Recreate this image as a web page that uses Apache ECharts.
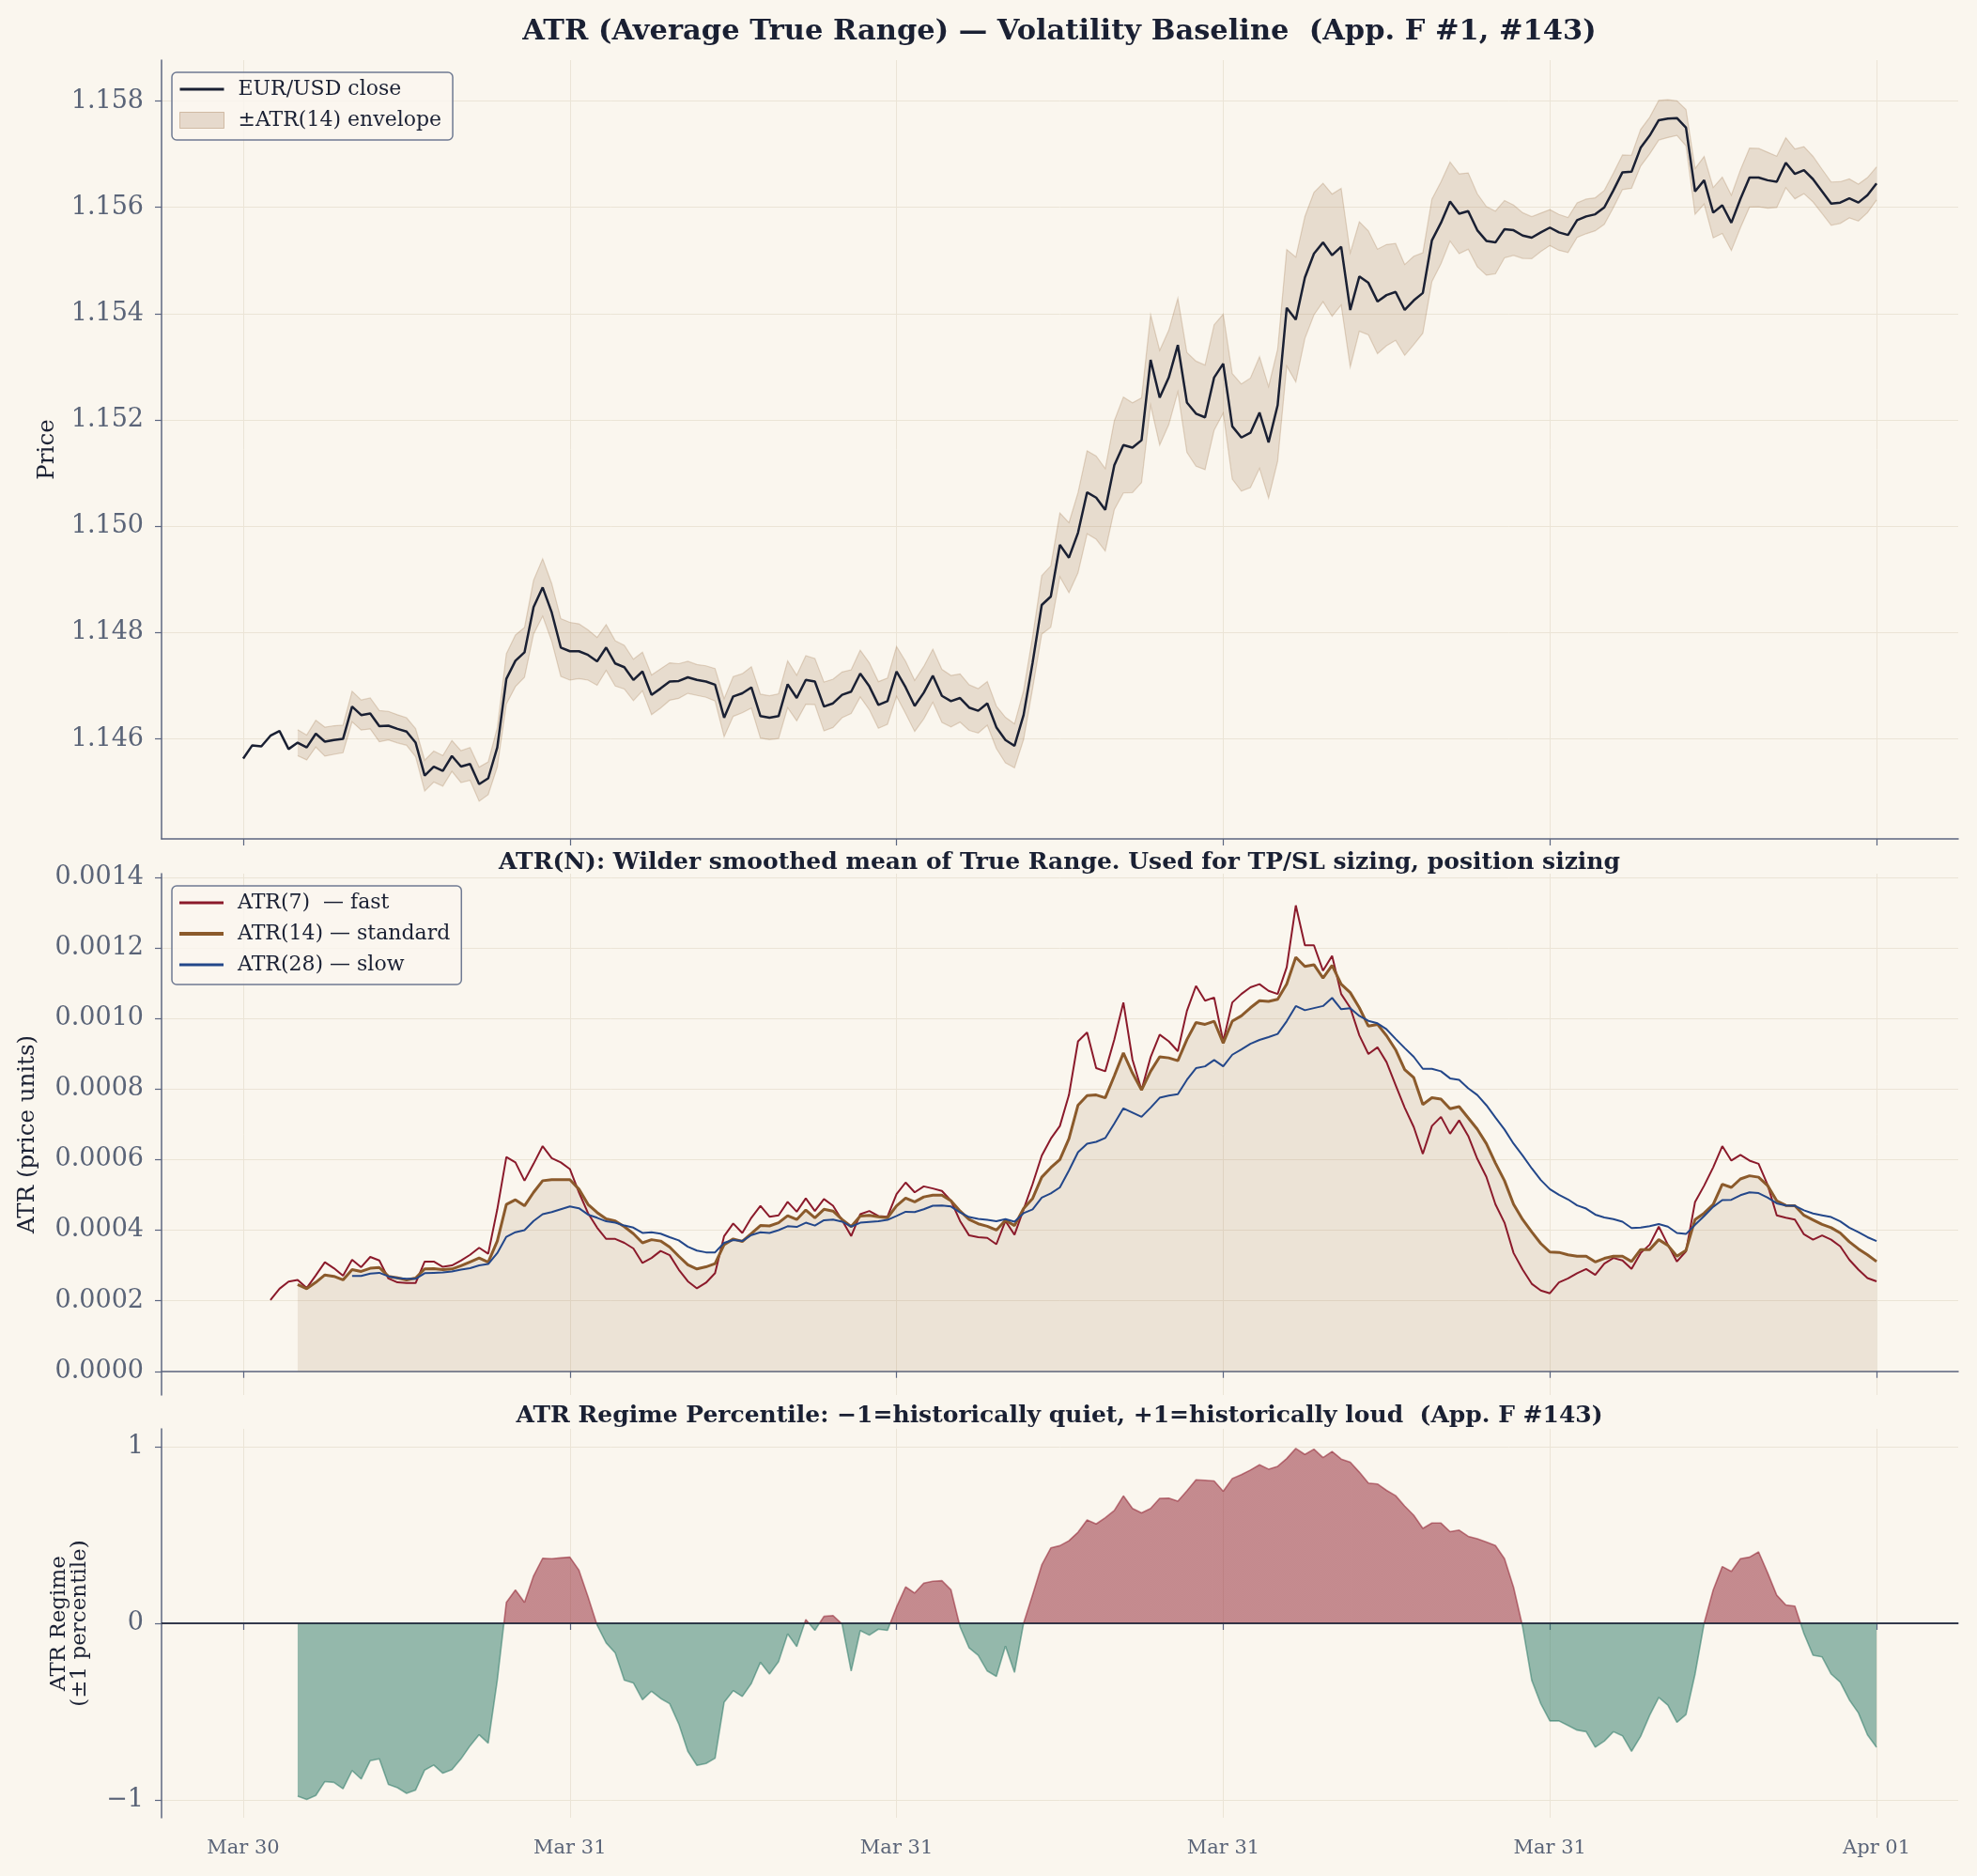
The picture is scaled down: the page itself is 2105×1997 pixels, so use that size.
<!DOCTYPE html>
<html>
<head>
<meta charset="utf-8">
<script src="https://cdn.jsdelivr.net/npm/echarts@6/dist/echarts.min.js"></script>
<style>
html,body{margin:0;padding:0;background:#faf6ee;}
#chart{width:2105px;height:1997px;}
</style>
</head>
<body>
<div id="chart"></div>
<script>
// ---------- time grid ----------
const START_UTC = Date.UTC(2025, 2, 30, 18, 0, 0);   // Mar 30 18:00
const STEP_MINUTES = 10;
const X_TICK_HOURS = [0, 6, 12, 18, 24, 30];
const MONTHS = ['Jan','Feb','Mar','Apr','May','Jun','Jul','Aug','Sep','Oct','Nov','Dec'];

// ---------- tick labels ----------
const PRICE_TICKS = [1.146, 1.148, 1.150, 1.152, 1.154, 1.156, 1.158];
const ATR_TICKS = [0, 0.0002, 0.0004, 0.0006, 0.0008, 0.0010, 0.0012, 0.0014];
const REGIME_TICKS = [-1, 0, 1];

// ---------- series values ----------
const close = [
1.14563,1.14588,1.14586,1.14606,1.14615,1.14581,1.14593,1.14584,1.14610,1.14595,
1.14598,1.14600,1.14661,1.14645,1.14648,1.14624,1.14625,1.14619,1.14614,1.14593,
1.14531,1.14548,1.14540,1.14568,1.14548,1.14553,1.14515,1.14526,1.14584,1.14713,
1.14747,1.14763,1.14848,1.14885,1.14838,1.14772,1.14765,1.14765,1.14758,1.14746,
1.14772,1.14742,1.14735,1.14711,1.14727,1.14683,1.14695,1.14708,1.14709,1.14716,
1.14711,1.14708,1.14702,1.14640,1.14680,1.14686,1.14697,1.14643,1.14640,1.14643,
1.14703,1.14677,1.14711,1.14708,1.14661,1.14667,1.14683,1.14689,1.14723,1.14699,
1.14664,1.14671,1.14727,1.14697,1.14662,1.14687,1.14719,1.14681,1.14671,1.14677,
1.14659,1.14653,1.14667,1.14622,1.14598,1.14587,1.14645,1.14744,1.14852,1.14868,
1.14965,1.14941,1.14988,1.15064,1.15054,1.15031,1.15115,1.15153,1.15148,1.15162,
1.15313,1.15242,1.15280,1.15341,1.15233,1.15212,1.15205,1.15280,1.15306,1.15188,
1.15167,1.15176,1.15214,1.15158,1.15228,1.15411,1.15389,1.15468,1.15513,1.15534,
1.15510,1.15526,1.15407,1.15470,1.15458,1.15423,1.15435,1.15441,1.15407,1.15425,
1.15439,1.15538,1.15571,1.15611,1.15588,1.15593,1.15557,1.15537,1.15534,1.15559,
1.15557,1.15547,1.15543,1.15553,1.15562,1.15553,1.15548,1.15576,1.15583,1.15587,
1.15600,1.15632,1.15666,1.15667,1.15712,1.15735,1.15764,1.15767,1.15768,1.15750,
1.15630,1.15651,1.15590,1.15604,1.15571,1.15616,1.15656,1.15656,1.15651,1.15648,
1.15684,1.15663,1.15670,1.15653,1.15630,1.15607,1.15609,1.15617,1.15609,1.15623,
1.15645];

const ATR_UNIT = 1e-4;   // ATR arrays below are in units of 0.0001
const atr7 = [
null,null,null,2.02,2.34,2.54,2.59,2.36,2.72,3.09,
2.92,2.71,3.16,2.95,3.24,3.14,2.63,2.52,2.50,2.50,
3.11,3.11,2.96,3.00,3.14,3.30,3.50,3.33,4.59,6.07,
5.92,5.40,5.88,6.38,6.04,5.92,5.73,5.07,4.48,4.07,
3.75,3.75,3.64,3.48,3.07,3.21,3.41,3.29,2.88,2.55,
2.35,2.51,2.78,3.83,4.19,3.92,4.35,4.69,4.38,4.42,
4.80,4.52,4.90,4.54,4.88,4.69,4.28,3.83,4.45,4.54,
4.40,4.38,5.02,5.35,5.07,5.24,5.18,5.11,4.83,4.26,
3.85,3.80,3.78,3.60,4.26,3.87,4.59,5.31,6.11,6.59,
6.95,7.83,9.35,9.60,8.59,8.50,9.40,10.45,8.83,7.97,
8.90,9.54,9.35,9.07,10.21,10.92,10.50,10.59,9.35,10.45,
10.69,10.88,10.97,10.78,10.69,11.45,13.20,12.07,12.07,11.35,
11.77,10.69,10.30,9.52,8.99,9.18,8.76,8.11,7.47,6.92,
6.16,6.95,7.21,6.73,7.11,6.67,6.02,5.51,4.73,4.21,
3.35,2.88,2.48,2.29,2.21,2.52,2.63,2.78,2.90,2.73,
3.05,3.21,3.14,2.90,3.35,3.59,4.10,3.59,3.11,3.40,
4.80,5.26,5.78,6.38,5.97,6.13,5.97,5.88,5.28,4.42,
4.35,4.30,3.88,3.73,3.85,3.73,3.54,3.16,2.88,2.64,
2.55];

const atr14 = [
null,null,null,null,null,null,2.46,2.34,2.52,2.73,
2.69,2.59,2.88,2.83,2.92,2.94,2.69,2.65,2.59,2.64,
2.90,2.91,2.88,2.90,2.99,3.10,3.21,3.09,3.69,4.73,
4.86,4.69,5.07,5.40,5.43,5.43,5.43,5.16,4.73,4.50,
4.32,4.26,4.10,3.90,3.64,3.73,3.69,3.52,3.26,3.02,
2.90,2.96,3.05,3.59,3.75,3.68,3.90,4.13,4.12,4.21,
4.41,4.30,4.57,4.35,4.59,4.54,4.30,4.10,4.40,4.42,
4.38,4.35,4.69,4.91,4.80,4.94,4.99,4.99,4.83,4.54,
4.30,4.18,4.11,4.00,4.28,4.13,4.61,4.90,5.50,5.77,
6.00,6.59,7.54,7.81,7.83,7.75,8.37,9.02,8.45,7.97,
8.50,8.91,8.88,8.80,9.40,9.88,9.83,9.92,9.30,9.92,
10.07,10.30,10.50,10.48,10.54,10.97,11.73,11.47,11.52,11.14,
11.50,10.97,10.73,10.30,9.78,9.83,9.51,9.11,8.55,8.32,
7.56,7.75,7.71,7.44,7.50,7.18,6.86,6.45,5.90,5.40,
4.73,4.30,3.95,3.62,3.38,3.37,3.30,3.26,3.26,3.10,
3.20,3.26,3.26,3.11,3.45,3.45,3.73,3.57,3.26,3.43,
4.30,4.48,4.73,5.30,5.21,5.45,5.54,5.50,5.26,4.83,
4.70,4.69,4.42,4.29,4.16,4.07,3.92,3.67,3.47,3.30,
3.11];

const atr28 = [
null,null,null,null,null,null,null,null,null,null,
null,null,2.70,2.70,2.77,2.79,2.69,2.64,2.62,2.62,
2.78,2.79,2.80,2.83,2.88,2.92,3.00,3.04,3.35,3.81,
3.94,4.00,4.26,4.45,4.51,4.59,4.67,4.62,4.44,4.35,
4.25,4.21,4.13,4.07,3.92,3.94,3.90,3.80,3.71,3.53,
3.42,3.37,3.37,3.64,3.72,3.69,3.86,3.94,3.92,4.00,
4.11,4.09,4.21,4.13,4.28,4.30,4.24,4.10,4.21,4.23,
4.25,4.29,4.40,4.52,4.51,4.59,4.69,4.70,4.67,4.50,
4.37,4.32,4.29,4.25,4.31,4.24,4.48,4.59,4.92,5.04,
5.21,5.69,6.21,6.45,6.50,6.61,7.02,7.45,7.33,7.21,
7.47,7.75,7.81,7.85,8.26,8.59,8.64,8.82,8.64,8.97,
9.12,9.28,9.39,9.47,9.56,9.92,10.35,10.23,10.29,10.35,
10.58,10.26,10.29,10.07,9.93,9.86,9.69,9.42,9.16,8.91,
8.57,8.57,8.50,8.30,8.26,8.02,7.83,7.54,7.19,6.85,
6.45,6.11,5.75,5.42,5.16,5.00,4.87,4.70,4.61,4.44,
4.36,4.31,4.24,4.06,4.07,4.11,4.17,4.10,3.92,3.89,
4.15,4.40,4.66,4.85,4.86,4.99,5.07,5.05,4.92,4.76,
4.70,4.69,4.56,4.47,4.42,4.37,4.25,4.07,3.94,3.80,
3.69];

const regime = [
null,null,null,null,null,null,-0.978,-0.996,-0.974,-0.895,
-0.900,-0.936,-0.833,-0.881,-0.777,-0.767,-0.911,-0.930,-0.962,-0.943,
-0.830,-0.802,-0.848,-0.828,-0.767,-0.693,-0.630,-0.678,-0.322,0.118,
0.189,0.118,0.268,0.368,0.365,0.370,0.374,0.300,0.150,-0.010,
-0.111,-0.167,-0.322,-0.337,-0.432,-0.384,-0.425,-0.455,-0.569,-0.724,
-0.804,-0.793,-0.763,-0.446,-0.381,-0.414,-0.340,-0.220,-0.287,-0.217,
-0.060,-0.132,0.021,-0.040,0.039,0.044,-0.005,-0.270,-0.041,-0.067,
-0.033,-0.040,0.092,0.206,0.171,0.227,0.238,0.241,0.189,-0.020,
-0.139,-0.181,-0.270,-0.300,-0.129,-0.278,0.000,0.162,0.330,0.426,
0.439,0.467,0.515,0.585,0.562,0.597,0.638,0.721,0.650,0.624,
0.650,0.707,0.708,0.691,0.749,0.812,0.809,0.805,0.747,0.819,
0.841,0.867,0.897,0.872,0.888,0.932,0.989,0.955,0.985,0.937,
0.972,0.929,0.911,0.855,0.793,0.788,0.752,0.722,0.663,0.611,
0.537,0.567,0.567,0.518,0.527,0.492,0.478,0.460,0.440,0.365,
0.203,-0.020,-0.322,-0.455,-0.552,-0.552,-0.578,-0.604,-0.613,-0.701,
-0.666,-0.613,-0.636,-0.724,-0.640,-0.520,-0.419,-0.463,-0.560,-0.516,
-0.287,0.000,0.189,0.321,0.294,0.365,0.374,0.404,0.285,0.159,
0.104,0.097,-0.058,-0.181,-0.190,-0.287,-0.333,-0.433,-0.507,-0.631,
-0.701];

// ---------- build ----------
const HOUR = 3600e3;
const times = close.map((_, i) => START_UTC + i * STEP_MINUTES * 60e3);
const xTicks = X_TICK_HOURS.map(h => START_UTC + h * HOUR);
const X_MIN = START_UTC - 1.5 * HOUR, X_MAX = START_UTC + 31.5 * HOUR;

const pair = (arr, f) => arr.map((v, i) => [times[i], v == null ? null : f(v, i)]);
const priceData = pair(close, v => v);
const envelopeData = [];
atr14.forEach((a, i) => {
  if (a != null) envelopeData.push([times[i], close[i] - a * ATR_UNIT, close[i] + a * ATR_UNIT]);
});
const atr7Data = pair(atr7, v => v * ATR_UNIT);
const atr14Data = pair(atr14, v => v * ATR_UNIT);
const atr28Data = pair(atr28, v => v * ATR_UNIT);
const regimeData = pair(regime, v => v);

const FONT = 'DejaVu Serif';
const INK = '#1a2033';
const TICK_INK = '#5a6478';
const SPINE = '#5c6680';
const GRIDC = '#ebe4d6';
const BG = '#faf6ee';
const C7 = '#8b1a2b', C14 = '#8b5a2b', C28 = '#23478a';
const ENV_FILL = 'rgba(139,90,43,0.16)', ENV_EDGE = 'rgba(139,90,43,0.22)';
const LINE_ICON = 'path://M0,0H48V3H0Z';
const LINE_ICON_THICK = 'path://M0,0H48V4H0Z';

function fmtDate(v) {
  const d = new Date(v);
  return MONTHS[d.getUTCMonth()] + ' ' + String(d.getUTCDate()).padStart(2, '0');
}

const grids = [
  {left: 172, top: 64, width: 1913, height: 829},
  {left: 172, top: 930, width: 1913, height: 555},
  {left: 172, top: 1521, width: 1913, height: 414}
];

function xAxisFor(i, showLabels) {
  return {
    type: 'value', gridIndex: i, min: X_MIN, max: X_MAX,
    axisLine: {show: true, lineStyle: {color: SPINE, width: 1.5}},
    axisTick: {show: true, length: 7, lineStyle: {color: SPINE, width: 1.2}, customValues: xTicks},
    axisLabel: {show: showLabels, customValues: xTicks, formatter: fmtDate, fontFamily: FONT, fontSize: 21, color: TICK_INK, margin: 22},
    splitLine: {show: true, lineStyle: {color: GRIDC, width: 1}}
  };
}

function yAxisFor(i, min, max, ticks, fmt, name, gap, nameSize, lh) {
  return {
    type: 'value', gridIndex: i, min: min, max: max,
    name: name, nameLocation: 'middle', nameGap: gap,
    nameTextStyle: {fontFamily: FONT, fontSize: nameSize, color: INK, lineHeight: lh},
    axisLine: {show: true, lineStyle: {color: SPINE, width: 1.5}},
    axisTick: {show: true, length: 7, lineStyle: {color: SPINE, width: 1.2}, customValues: ticks},
    axisLabel: {customValues: ticks, formatter: fmt, fontFamily: FONT, fontSize: 27, color: TICK_INK, margin: 19},
    splitLine: {show: true, lineStyle: {color: GRIDC, width: 1}}
  };
}

const legendCommon = {
  orient: 'vertical', itemWidth: 47, itemHeight: 17, itemGap: 11,
  padding: [7, 12, 10, 8],
  backgroundColor: 'rgba(250,246,238,0.85)', borderColor: '#6f7a92', borderWidth: 1.5, borderRadius: 5,
  textStyle: {fontFamily: FONT, fontSize: 22, color: INK, padding: [0, 0, 0, 10]}
};

const option = {
  backgroundColor: BG,
  animation: false,
  title: [
    {text: 'ATR (Average True Range) — Volatility Baseline  (App. F #1, #143)', left: 1128, top: 19, textAlign: 'center', padding: 0,
     textStyle: {fontFamily: FONT, fontSize: 30.5, fontWeight: 'bold', color: INK}},
    {text: 'ATR(N): Wilder smoothed mean of True Range. Used for TP/SL sizing, position sizing', left: 1128, top: 906, textAlign: 'center', padding: 0,
     textStyle: {fontFamily: FONT, fontSize: 25, fontWeight: 'bold', color: INK}},
    {text: 'ATR Regime Percentile: \u22121=historically quiet, +1=historically loud  (App. F #143)', left: 1128, top: 1495, textAlign: 'center', padding: 0,
     textStyle: {fontFamily: FONT, fontSize: 25, fontWeight: 'bold', color: INK}}
  ],
  legend: [
    Object.assign({}, legendCommon, {left: 183, top: 77, data: [
      {name: 'EUR/USD close', icon: LINE_ICON, itemStyle: {color: INK}},
      {name: '\u00b1ATR(14) envelope', icon: 'rect', itemStyle: {color: 'rgba(139,90,43,0.18)', borderColor: 'rgba(139,90,43,0.32)', borderWidth: 1}}
    ]}),
    Object.assign({}, legendCommon, {left: 183, top: 943, data: [
      {name: 'ATR(7)  \u2014 fast', icon: LINE_ICON, itemStyle: {color: C7}},
      {name: 'ATR(14) \u2014 standard', icon: LINE_ICON_THICK, itemStyle: {color: C14}},
      {name: 'ATR(28) \u2014 slow', icon: LINE_ICON, itemStyle: {color: C28}}
    ]})
  ],
  grid: grids,
  xAxis: [xAxisFor(0, false), xAxisFor(1, false), xAxisFor(2, true)],
  yAxis: [
    yAxisFor(0, 1.14412, 1.15877, PRICE_TICKS, v => v.toFixed(3), 'Price', 106, 24.5, 28),
    yAxisFor(1, -0.0000672, 0.00141, ATR_TICKS, v => v.toFixed(4), 'ATR (price units)', 128, 24.5, 28),
    yAxisFor(2, -1.1, 1.1, REGIME_TICKS, v => (v < 0 ? '\u2212' + Math.abs(v) : String(v)), 'ATR Regime\n(\u00b11 percentile)', 76, 23, 22)
  ],
  visualMap: [{
    show: false, type: 'piecewise', seriesIndex: 6, dimension: 1,
    pieces: [{min: -5, max: 0, color: '#2e7a68'}, {min: 0, max: 5, color: '#8f1f2f'}]
  }],
  series: [
    {name: '\u00b1ATR(14) envelope', type: 'custom', xAxisIndex: 0, yAxisIndex: 0,
     data: envelopeData, dimensions: ['t', 'lo', 'hi'], encode: {x: 0, y: [1, 2]},
     itemStyle: {color: ENV_FILL}, z: 1, silent: true,
     renderItem: function (params, api) {
       if (params.dataIndexInside !== 0) return null;
       const n = params.dataInsideLength;
       const up = [], lo = [];
       for (let i = 0; i < n; i++) {
         up.push(api.coord([api.value(0, i), api.value(2, i)]));
         lo.push(api.coord([api.value(0, i), api.value(1, i)]));
       }
       return {type: 'group', children: [
         {type: 'polygon', shape: {points: up.concat(lo.slice().reverse())}, style: {fill: ENV_FILL, stroke: null}},
         {type: 'polyline', shape: {points: up}, style: {stroke: ENV_EDGE, lineWidth: 1.2, fill: null}},
         {type: 'polyline', shape: {points: lo}, style: {stroke: ENV_EDGE, lineWidth: 1.2, fill: null}}
       ]};
     }},
    {name: 'EUR/USD close', type: 'line', xAxisIndex: 0, yAxisIndex: 0, data: priceData,
     showSymbol: false, symbol: 'none', lineStyle: {width: 2.5, color: INK}, itemStyle: {color: INK}, z: 3},
    {name: 'atr14fill', type: 'line', xAxisIndex: 1, yAxisIndex: 1, data: atr14Data,
     showSymbol: false, symbol: 'none', lineStyle: {width: 0, opacity: 0},
     areaStyle: {color: 'rgba(139,90,43,0.12)', opacity: 1}, z: 1},
    {name: 'ATR(7)  \u2014 fast', type: 'line', xAxisIndex: 1, yAxisIndex: 1, data: atr7Data,
     showSymbol: false, symbol: 'none', lineStyle: {width: 2, color: C7}, itemStyle: {color: C7}, z: 3},
    {name: 'ATR(14) \u2014 standard', type: 'line', xAxisIndex: 1, yAxisIndex: 1, data: atr14Data,
     showSymbol: false, symbol: 'none', lineStyle: {width: 3, color: C14}, itemStyle: {color: C14}, z: 3},
    {name: 'ATR(28) \u2014 slow', type: 'line', xAxisIndex: 1, yAxisIndex: 1, data: atr28Data,
     showSymbol: false, symbol: 'none', lineStyle: {width: 2, color: C28}, itemStyle: {color: C28}, z: 3},
    {name: 'regime', type: 'line', xAxisIndex: 2, yAxisIndex: 2, data: regimeData,
     showSymbol: false, symbol: 'none', lineStyle: {width: 1.6, opacity: 0.55},
     areaStyle: {opacity: 0.5}, z: 2,
     markLine: {silent: true, symbol: 'none', label: {show: false},
       lineStyle: {color: INK, width: 1.6, type: 'solid', opacity: 1},
       data: [{yAxis: 0}]}}
  ]
};

const chart = echarts.init(document.getElementById('chart'), null, {renderer: 'canvas'});
chart.setOption(option);
</script>
</body>
</html>
